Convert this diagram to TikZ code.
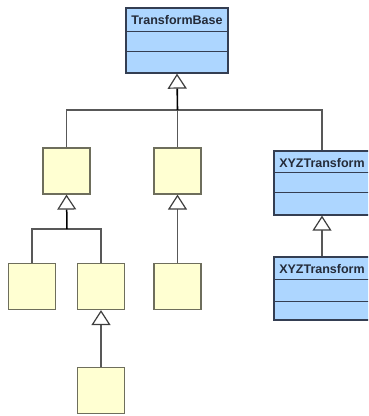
\documentclass[tikz,border=0pt]{standalone}
\usepackage{fontspec}
\newfontfamily\umlfont{Liberation Sans}
\usetikzlibrary{arrows.meta,positioning,calc}
\definecolor{classblue}{RGB}{173,214,255}
\definecolor{classedge}{RGB}{52,62,82}
\definecolor{boxyellow}{RGB}{255,255,210}
\definecolor{boxedge}{RGB}{110,110,92}
\definecolor{linkgray}{RGB}{88,88,88}
\tikzset{
	umlclass/.style={draw=classedge,fill=classblue,line width=1.3pt,minimum width=102pt,minimum height=65pt,inner sep=0pt},
	umltitle/.style={anchor=north,minimum height=24pt,inner sep=0pt,text=classedge!70!black,font=\umlfont\bfseries\fontsize{12.5}{14}\selectfont},
	classline/.style={draw=classedge,line width=1.3pt},
	plainbox/.style={draw=boxedge,fill=boxyellow,line width=1.2pt,minimum width=47pt,minimum height=46pt,inner sep=0pt},
	link/.style={draw=linkgray,line width=1.3pt},
	gen/.style={link,-{Triangle[open,fill=white,width=19pt,length=15pt,line width=1.2pt,color=linkgray!70!black]}}
}
\begin{document}
\begin{tikzpicture}[x=1pt,y=-1pt]
	\useasboundingbox (0,0) rectangle (368,416);
	\clip (0,0) rectangle (368,416);
	% class boxes
	\node[umlclass] (base) at (177,40.5) {};
	\node[umltitle] at (base.north) {TransformBase};
	\draw[classline] ([yshift=-24pt]base.north west) -- ([yshift=-24pt]base.north east);
	\draw[classline] ([yshift=-44pt]base.north west) -- ([yshift=-44pt]base.north east);
	\node[umlclass,minimum width=96pt,minimum height=64pt] (xyz) at (322,183) {};
	\node[umltitle] at (xyz.north) {XYZTransform};
	\draw[classline] ([yshift=-22pt]xyz.north west) -- ([yshift=-22pt]xyz.north east);
	\draw[classline] ([yshift=-42pt]xyz.north west) -- ([yshift=-42pt]xyz.north east);
	\node[umlclass,minimum width=96pt,minimum height=63pt] (xyzsub) at (322,288.5) {};
	\node[umltitle] at (xyzsub.north) {XYZTransform};
	\draw[classline] ([yshift=-23pt]xyzsub.north west) -- ([yshift=-23pt]xyzsub.north east);
	\draw[classline] ([yshift=-45pt]xyzsub.north west) -- ([yshift=-45pt]xyzsub.north east);
	% plain boxes
	\node[plainbox] (left) at (66.5,171) {};
	\node[plainbox] (mid) at (177.5,171) {};
	\node[plainbox] (leftA) at (32,286.5) {};
	\node[plainbox] (leftB) at (101,286.5) {};
	\node[plainbox] (midA) at (177.5,286.5) {};
	\node[plainbox] (leftBA) at (101,390.5) {};
	% generalization
	\coordinate (topjoin) at (177.5,110);
	\coordinate (leftjoin) at (67,229);
	\draw[link] (left.north) |- (topjoin) -| (xyz.north);
	\draw[link] (mid.north) -- (topjoin);
	\draw[gen,draw=black,line width=1.6pt] (topjoin) -- (base.south);
	\draw[link] (leftA.north) |- (leftjoin) -| (leftB.north);
	\draw[gen,draw=black,line width=1.5pt] (leftjoin) -- (left.south);
	\draw[gen] (midA.north) -- (mid.south);
	\draw[gen] (leftBA.north) -- (leftB.south);
	\draw[gen] (xyzsub.north) -- (xyz.south);
\end{tikzpicture}
\end{document}
